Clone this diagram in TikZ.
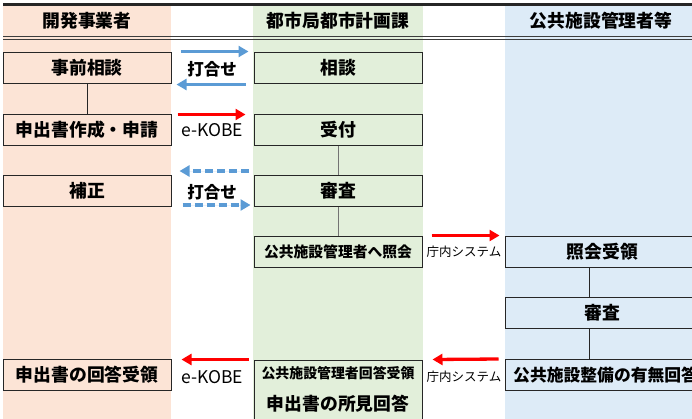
\documentclass[tikz,border=0pt]{standalone}
\usepackage{fontspec}
\setmainfont{Noto Sans CJK JP}
\usetikzlibrary{arrows.meta,calc}
\definecolor{pinkbg}{RGB}{252,228,214}
\definecolor{greenbg}{RGB}{226,239,218}
\definecolor{bluebg}{RGB}{221,235,247}
\definecolor{arblue}{RGB}{91,155,213}
\definecolor{arred}{RGB}{255,0,0}
\definecolor{edge}{RGB}{38,38,38}
\tikzset{
  box/.style={draw=edge, line width=1pt, minimum height=31pt, inner sep=0pt, anchor=center, font=\fontsize{17.8}{20}\selectfont\bfseries},
  pbox/.style={box, fill=pinkbg, minimum width=168pt},
  gbox/.style={box, fill=greenbg, minimum width=168pt},
  bbox/.style={box, fill=bluebg, minimum width=195pt},
  hdr/.style={font=\fontsize{17.8}{20}\selectfont\bfseries, inner sep=0pt},
  lbl/.style={font=\fontsize{16.5}{18}\selectfont\bfseries, inner sep=0pt},
  klbl/.style={font=\fontsize{17.5}{18}\selectfont, inner sep=0pt},
  slbl/.style={font=\fontsize{12.5}{14}\selectfont, inner sep=0pt},
  bar/.style={line width=3.3pt, -{Triangle[length=10pt,width=11pt]}},
  bluear/.style={bar, draw=arblue, fill=arblue},
  redar/.style={bar, draw=arred, fill=arred},
  dashar/.style={bluear, dash pattern=on 8pt off 4pt},
  link/.style={draw=edge, line width=1pt},
  glink/.style={draw=black!55, line width=1pt},
}
\begin{document}
\begin{tikzpicture}[x=1pt,y=-1pt]
\useasboundingbox (0,0) rectangle (692,418);
\clip (0,0) rectangle (692,418);
% column backgrounds
\fill[pinkbg] (3,4) rectangle (171,420);
\fill[greenbg] (253,4) rectangle (423,420);
\fill[bluebg] (505,4) rectangle (700,420);
% header lines
\draw[edge, line width=2.8pt] (3,4.5) -- (700,4.5);
\draw[edge!90, line width=1.3pt] (3,36.8) -- (700,36.8);
\draw[edge!90, line width=1.3pt] (3,39.6) -- (700,39.6);
% headers
\node[hdr] (h1) at (87,20.5) {開発事業者};
\node[hdr] (h2) at (338,20.5) {都市局都市計画課};
\node[hdr] (h3) at (601,20.5) {公共施設管理者等};
% left column
\node[pbox] (jizen) at (87,67.5) {事前相談};
\node[pbox] (shinsei) at (87,129.5) {申出書作成・申請};
\node[pbox] (hosei) at (87,191) {補正};
\node[pbox] (kaito) at (87,374.5) {申出書の回答受領};
% middle column
\node[gbox] (soudan) at (338,67.5) {相談};
\node[gbox] (uketsuke) at (338,129.5) {受付};
\node[gbox] (shinsa) at (338,191) {審査};
\node[gbox, font=\fontsize{14.8}{16}\selectfont\bfseries] (shokai) at (338,252) {公共施設管理者へ照会};
\node[gbox, minimum height=66pt] (shoken) at (338,393) {};
\node[font=\fontsize{13.9}{16}\selectfont\bfseries, inner sep=0pt] (shoken1) at (338,373.5) {公共施設管理者回答受領};
\node[font=\fontsize{17.8}{20}\selectfont\bfseries, inner sep=0pt] (shoken2) at (338,403.5) {申出書の所見回答};
% right column
\node[bbox] (juryo) at (602.5,252) {照会受領};
\node[bbox] (shinsa3) at (602.5,313) {審査};
\node[bbox] (umu) at (602.5,375) {};
\node[font=\fontsize{16.8}{20}\selectfont\bfseries, inner sep=0pt, anchor=west] (umutext) at (513,375) {公共施設整備の有無回答};
% connectors
\coordinate (vb) at (589,0);
\draw[link] (jizen.south) -- (shinsei.north);
\draw[glink] (uketsuke.south) -- (shinsa.north);
\draw[glink] (shinsa.south) -- (shokai.north);
\draw[link] (vb |- juryo.south) -- (vb |- shinsa3.north);
\draw[link] (vb |- shinsa3.south) -- (vb |- umu.north);
% arrows
\draw[bluear] ($(jizen.north east)+(9,0)$) -- ($(soudan.north west)+(-5,0)$);
\draw[bluear] ($(soudan.south west)+(-8,1)$) -- ($(jizen.south east)+(5,1)$);
\node[lbl] (uchi1) at (212,69) {打合せ};
\draw[redar] ($(shinsei.north east)+(6,1)$) -- ($(uketsuke.north west)+(-8,1)$);
\node[klbl] (ek1) at (212,130.5) {e-KOBE};
\draw[dashar] ($(shinsa.north west)+(-5,-4)$) -- ($(hosei.north east)+(8,-4)$);
\node[lbl] (uchi2) at (212,192) {打合せ};
\draw[dashar] ($(hosei.south east)+(11,-2)$) -- ($(shinsa.south west)+(-3,-2)$);
\draw[redar] ($(shokai.north east)+(9,-0.5)$) -- ($(juryo.north west)+(-5,-0.5)$);
\node[slbl] (ch1) at (464,251.5) {庁内システム};
\draw[redar] ($(umu.north west)+(-6,0)$) -- ($(shoken.north east)+(10,0)$);
\node[slbl] (ch2) at (464,376.5) {庁内システム};
\draw[redar] ($(shoken.north west)+(-5,0)$) -- ($(kaito.north east)+(10,1)$);
\node[klbl] (ek2) at (212,377) {e-KOBE};
\end{tikzpicture}
\end{document}
